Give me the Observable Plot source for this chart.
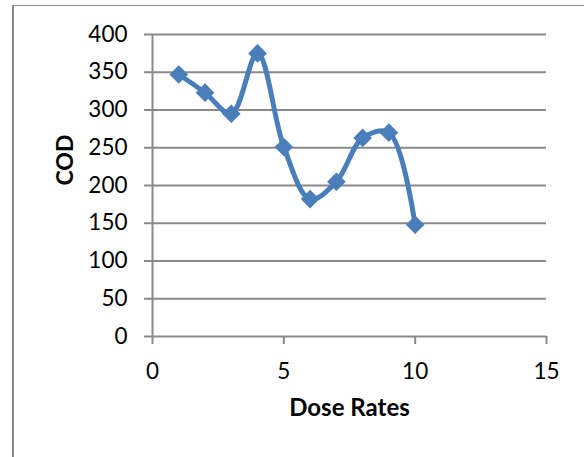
<!DOCTYPE html>
<html>
<head>
<meta charset="utf-8">
<script src="https://cdn.jsdelivr.net/npm/d3@7"></script>
<script src="https://cdn.jsdelivr.net/npm/@observablehq/plot@0.6"></script>
<style>
  body { margin: 0; background: #fff; }
  #frame { position: absolute; left: 12px; top: 5px; width: 620px; height: 500px;
           border-left: 2px solid #8a8a8a; border-top: 1px solid #8a8a8a; }
  #chart { position: absolute; left: 0; top: 0; }
</style>
</head>
<body>
<div id="frame"></div>
<div id="chart"></div>
<script>
const doseRates = [1, 2, 3, 4, 5, 6, 7, 8, 9, 10];
const cod = [347, 323, 295, 375, 251, 182, 205, 263, 270, 148];
const xTicks = [0, 5, 10, 15];
const yTicks = [0, 50, 100, 150, 200, 250, 300, 350, 400];
const xTitle = "Dose Rates";
const yTitle = "COD";

const data = doseRates.map((d, i) => ({x: d, y: cod[i]}));
const gridColor = "#8a8a8a";
const lineColor = "#4a7ebb";

const plot = Plot.plot({
  width: 584,
  height: 457,
  marginLeft: 152,
  marginRight: 38,
  marginTop: 34,
  marginBottom: 121,
  style: {fontFamily: "Lato", fontSize: "22.5px", color: "#000", background: "transparent", overflow: "visible"},
  x: {domain: [0, 15], ticks: xTicks, label: null},
  y: {domain: [0, 400], ticks: yTicks, label: null},
  marks: [
    Plot.gridY(yTicks, {stroke: gridColor, strokeOpacity: 1, strokeWidth: 2}),
    Plot.ruleX([0], {stroke: gridColor, strokeWidth: 2}),
    Plot.axisY(yTicks, {tickSize: 8, tickPadding: 17, stroke: gridColor, strokeWidth: 2, fill: "#000", label: null}),
    Plot.axisX(xTicks, {tickSize: 8, tickPadding: 19, stroke: gridColor, strokeWidth: 2, fill: "#000", label: null}),
    Plot.text([yTitle], {text: d => d, frameAnchor: "left", dx: -87, rotate: -90, fontWeight: "bold", fontSize: 23, fill: "#000"}),
    Plot.text([xTitle], {text: d => d, frameAnchor: "bottom", dy: 79, fontWeight: "bold", fontSize: 24, fill: "#000"}),
    Plot.line(data, {x: "x", y: "y", curve: "catmull-rom", stroke: lineColor, strokeWidth: 5}),
    Plot.dot(data, {x: "x", y: "y", symbol: "diamond2", r: 8.4, fill: lineColor, stroke: "none"})
  ]
});
document.getElementById("chart").appendChild(plot);
</script>
</body>
</html>
